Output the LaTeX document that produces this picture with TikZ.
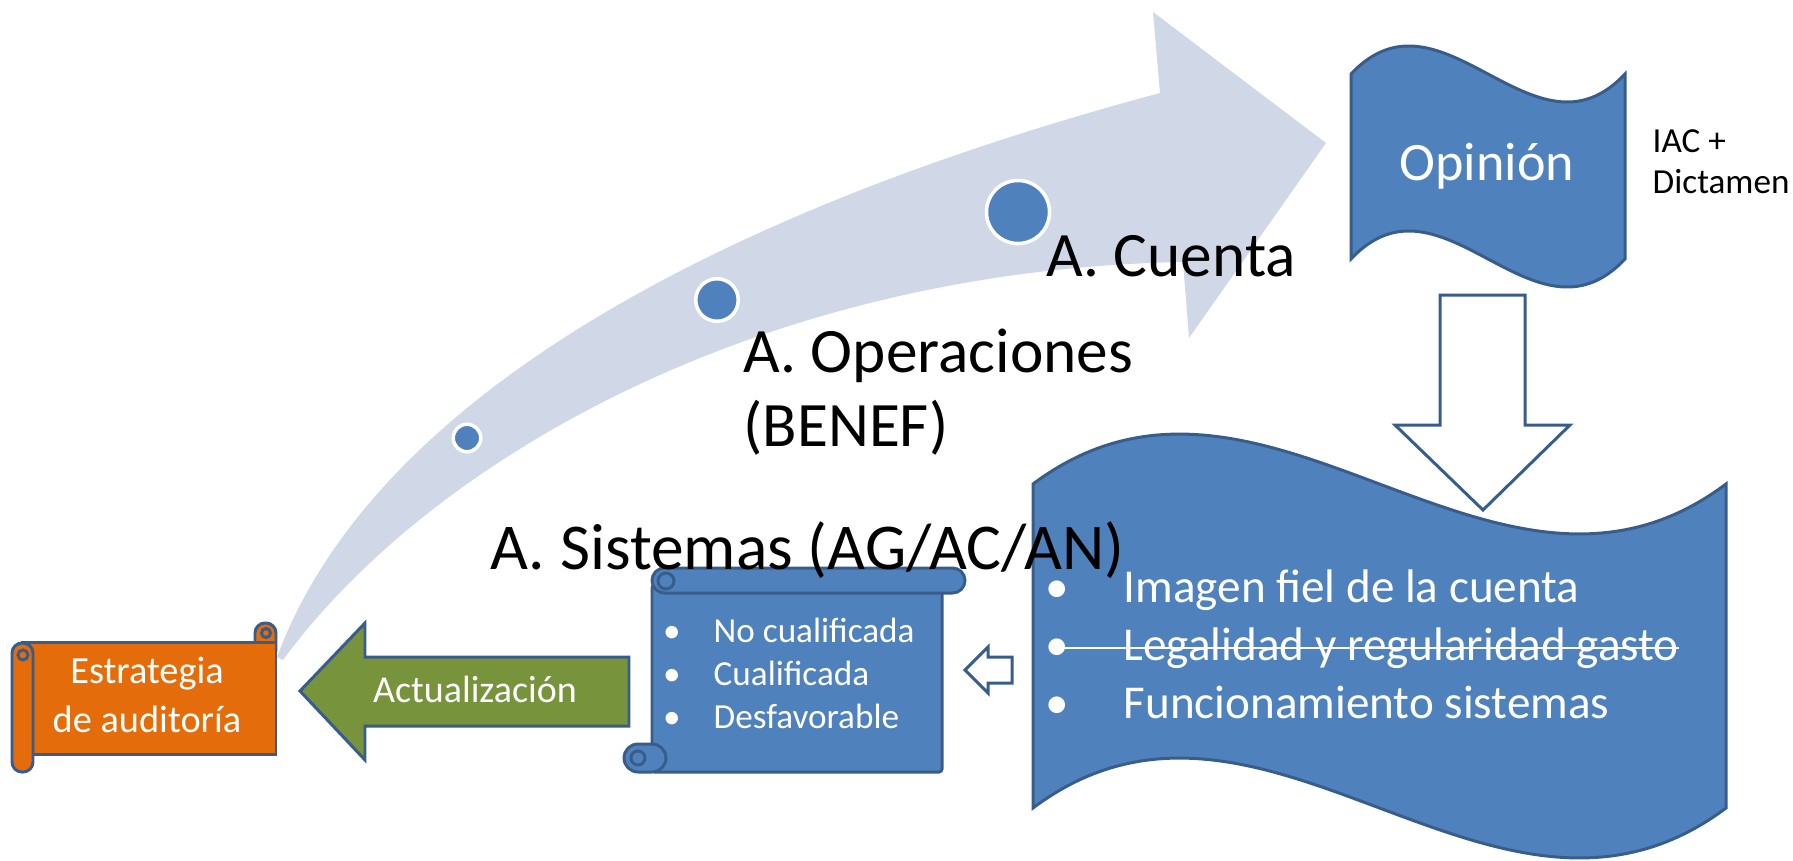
\documentclass[tikz,border=0pt]{standalone}
\usepackage{fontspec}
\setmainfont{Carlito}
\usepackage{tikz}

\definecolor{accent}{HTML}{4F81BD}
\definecolor{edge}{HTML}{385D8A}
\definecolor{band}{HTML}{D0D8E8}
\definecolor{orangefill}{HTML}{E46C0A}
\definecolor{greenfill}{HTML}{77933C}

\begin{document}
\begin{tikzpicture}[x=0.01cm, y=-0.01cm,
    panel/.style ={fill=accent, draw=edge, line width=0.85pt},
    scrollo/.style ={fill=orangefill, draw=edge, line width=0.85pt},
    hollow/.style ={fill=white, draw=edge, line width=0.85pt},
    dot/.style ={circle, fill=accent, draw=white, line width=1pt, inner sep=0pt},
    stage/.style ={anchor=base west, inner sep=0pt, font=\fontsize{18}{22}\selectfont},
    note/.style ={anchor=base west, inner sep=0pt, font=\fontsize{10}{12}\selectfont},
    inside/.style ={anchor=base, inner sep=0pt, text=white}]
   \useasboundingbox (0,0) rectangle (1793,860);

   \fill[band] (277,657) .. controls (380,380) and (760,200) .. (1160,93)
      -- (1153,12) -- (1326,143) -- (1189,338) -- (1183,262)
      .. controls (760,270) and (430,460) .. (283,660) -- cycle;
   \node[dot, minimum size=0.275cm] (d1) at (467,438) {};
   \node[dot, minimum size=0.425cm] (d2) at (717,300) {};
   \node[dot, minimum size=0.63cm] (d3) at (1018,212) {};

   \filldraw[panel] (1351,74) .. controls (1442,-23) and (1534,171) .. (1625,74)
      -- (1625,259) .. controls (1534,356) and (1442,162) .. (1351,259) -- cycle;
   \filldraw[panel] (1033,484) .. controls (1264,311) and (1495,657) .. (1726,484)
      -- (1726,808) .. controls (1495,981) and (1264,635) .. (1033,808) -- cycle;
   \filldraw[hollow] (1440,295) -- (1525,295) -- (1525,425) -- (1570,425)
      -- (1483,510) -- (1395,425) -- (1440,425) -- cycle;
   \filldraw[hollow] (965,670) -- (988,647) -- (988,657) -- (1012,657)
      -- (1012,683) -- (988,683) -- (988,693) -- cycle;

   \filldraw[panel, rounded corners=0.03cm] (652,585) rectangle (942,772);
   \filldraw[panel, rounded corners=0.125cm] (652,568) rectangle (965,593);
   \filldraw[panel] (666,581) circle (0.08cm);
   \filldraw[panel, rounded corners=0.14cm] (624,744) rectangle (666,772);
   \filldraw[panel] (638,758) circle (0.07cm);

   \filldraw[scrollo, rounded corners=0.1cm] (255,623) rectangle (276,660);
   \filldraw[scrollo] (22,642) rectangle (276,754);
   \filldraw[scrollo, rounded corners=0.1cm] (12,643) rectangle (33,772);
   \draw[edge, line width=0.85pt] (266,633) circle (0.045cm);
   \draw[edge, line width=0.85pt] (23,655) circle (0.05cm);

   \filldraw[fill=greenfill, draw=edge, line width=0.85pt] (300,691) -- (365,623)
      -- (365,657) -- (629,657) -- (629,726) -- (365,726) -- (365,760) -- cycle;

   \node[stage] (cuenta) at (1046,276) {A. Cuenta};
   \node[stage] (oper) at (743,372) {A. Operaciones};
   \node[stage] (benef) at (743,446) {(BENEF)};
   \node[stage, font=\fontsize{18.6}{22}\selectfont] (sist) at (490,569) {A. Sistemas (AG/AC/AN)};

   \node[inside, font=\fontsize{15.4}{18}\selectfont] (opin) at (1487,180) {Opinión};
   \node[note] (iac) at (1652,152) {IAC +};
   \node[note] (dict) at (1652,193) {Dictamen};

   \node[inside, font=\fontsize{10.9}{13.9}\selectfont] (estr) at (147,683) {Estrategia};
   \node[inside, font=\fontsize{10.9}{13.9}\selectfont] (aud) at (147,732) {de auditoría};
   \node[inside, font=\fontsize{10.8}{13}\selectfont] (act) at (475,702) {Actualización};

   \foreach \txt [count=\i] in {No cualificada, Cualificada, Desfavorable} {
      \node[inside, font=\fontsize{10}{12}\selectfont] (ob\i) at (672,599+43*\i) {\textbullet};
      \node[inside, anchor=base west, font=\fontsize{10}{12}\selectfont] (o\i) at (713,599+43*\i) {\txt};
   }
   \foreach \txt [count=\i] in {Imagen fiel de la cuenta, Legalidad y regularidad gasto, Funcionamiento sistemas} {
      \node[inside, font=\fontsize{13.4}{16.5}\selectfont] (wb\i) at (1057,544+58*\i) {\textbullet};
      \node[inside, anchor=base west, font=\fontsize{13.4}{16.5}\selectfont] (w\i) at (1123,544+58*\i) {\txt};
   }
   \draw[white, line width=0.7pt] ([shift={(-73,-12)}]w2.base west) -- ([shift={(0,-12)}]w2.base east);
\end{tikzpicture}
\end{document}
